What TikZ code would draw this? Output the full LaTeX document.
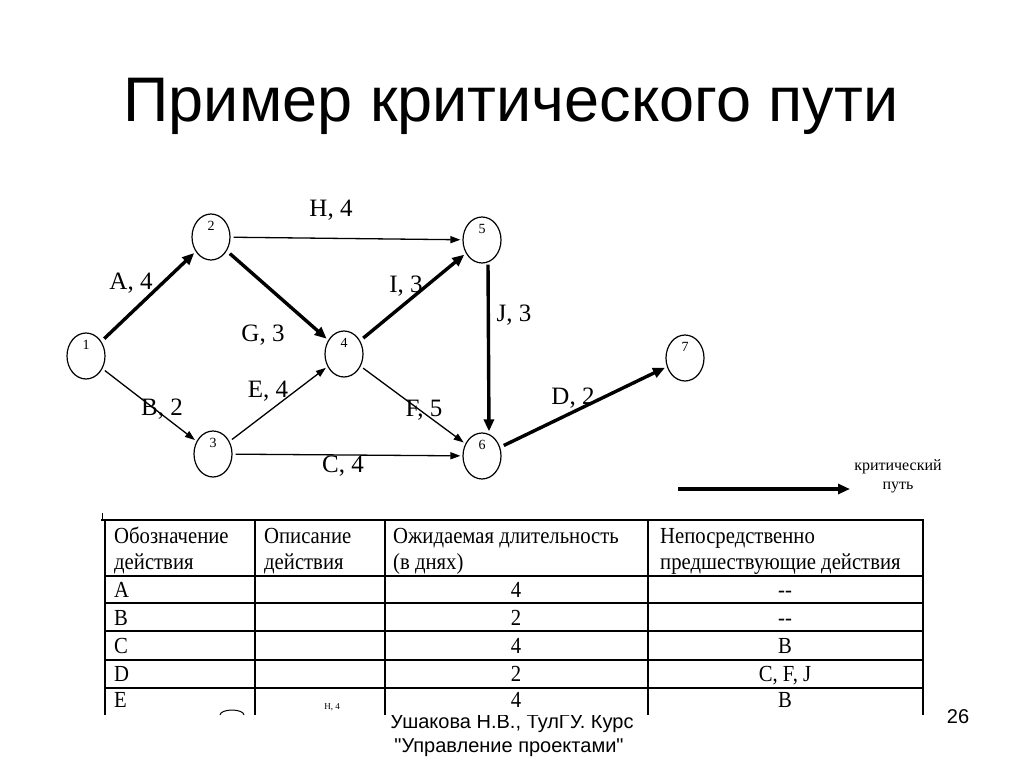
\documentclass[tikz,border=0pt]{standalone}
\usepackage{fontspec}
\setmainfont{Liberation Serif}
\newfontfamily\arialf{Liberation Sans}
\usetikzlibrary{shapes.geometric,arrows.meta}
\newcommand{\tcx}[1]{\scalebox{0.9}[1]{#1}}
\begin{document}
\begin{tikzpicture}[x=1pt,y=-1pt,
  ev/.style={draw,ellipse,line width=1.2pt,minimum width=38pt,minimum height=46pt,inner sep=0pt,
    font=\fontsize{14}{14}\selectfont,text height=9pt,text depth=22pt},
  thin/.style={line width=1.3pt,-{Triangle[length=10pt,width=7pt]},shorten <=3pt,shorten >=2pt},
  crit/.style={line width=3.4pt,-{Triangle[length=12pt,width=10pt]},shorten <=4pt,shorten >=2pt},
  elab/.style={font=\fontsize{25}{25}\selectfont,inner sep=0pt},
  tcell/.style={font=\fontsize{23}{23}\selectfont,inner sep=0pt},
  tline/.style={line width=1.4pt},
  ftxt/.style={font=\arialf\fontsize{20}{20}\selectfont,inner sep=0pt}
]
\useasboundingbox[fill=white] (0,0) rectangle (1024,767);

% title
\node[font=\arialf\fontsize{63}{63}\selectfont,anchor=base,inner sep=0pt] (title) at (511,122) {Пример критического пути};

% events
\node[ev] (n1) at (86,356) {1};
\node[ev] (n2) at (211,237) {2};
\node[ev] (n3) at (213,454) {3};
\node[ev] (n4) at (344,354) {4};
\node[ev] (n5) at (482,240) {5};
\node[ev] (n6) at (482,456) {6};
\node[ev] (n7) at (685,358) {7};

% activities
\draw[crit] (n1) -- (n2);
\draw[thin] (n1) -- (n3);
\draw[crit] (n2) -- (n4);
\draw[thin] (n2) -- (n5);
\draw[thin] (n3) -- (n4);
\draw[thin] (n3) -- (n6);
\draw[crit] (n4) -- (n5);
\draw[thin] (n4) -- (n6);
\draw[crit,shorten <=1pt,shorten >=1pt] ([xshift=6pt]n5.south) -- ([xshift=7pt]n6.north);
\draw[crit] (n6) -- (n7);

% activity labels
\node[elab] (lA) at (131,283) {A, 4};
\node[elab] (lB) at (162,409) {B, 2};
\node[elab] (lG) at (263,335) {G, 3};
\node[elab] (lH) at (331,210) {H, 4};
\node[elab] (lE) at (268,391) {E, 4};
\node[elab] (lC) at (343,466) {C, 4};
\node[elab] (lI) at (406,286) {I, 3};
\node[elab] (lF) at (424,410) {F, 5};
\node[elab] (lJ) at (514,315) {J, 3};
\node[elab] (lD) at (573,398) {D, 2};

% legend
\coordinate (legA) at (678,489);
\coordinate (legB) at (850,489);
\draw[line width=3.4pt,-{Triangle[length=12pt,width=10pt]}] (legA) -- (legB);
\node[font=\fontsize{16}{19}\selectfont,align=center,inner sep=0pt] (legT) at (898,476) {критический\\путь};

% footer (partly hidden under the table)
\node[ftxt,anchor=base] (foot1) at (512,728) {Ушакова Н.В., ТулГУ. Курс};
\node[ftxt,anchor=base] (foot2) at (509,752) {"Управление проектами"};
\node[ftxt] (pnum) at (958,717) {26};

% table background hides the top of the footer
\fill[white] (96,500) rectangle (935,715);

% table grid
\draw[line width=1pt] (102,513) -- (102,520);
\draw[tline] (101,520) -- (924,520);
\foreach \yy in {576,603,631,660,688} \draw[tline] (104,\yy) -- (924,\yy);
\foreach \xx in {105,255,385,648,923} \draw[tline] (\xx,520) -- (\xx,715);

% table header
\node[tcell,anchor=base west] (h1a) at (114,543) {\tcx{Обозначение}};
\node[tcell,anchor=base west] (h1b) at (114,569) {\tcx{действия}};
\node[tcell,anchor=base west] (h2a) at (264,543) {\tcx{Описание}};
\node[tcell,anchor=base west] (h2b) at (264,569) {\tcx{действия}};
\node[tcell,anchor=base west] (h3a) at (393,543) {\tcx{Ожидаемая длительность}};
\node[tcell,anchor=base west] (h3b) at (393,569) {\tcx{(в днях)}};
\node[tcell,anchor=base west] (h4a) at (660,543) {\tcx{Непосредственно}};
\node[tcell,anchor=base west] (h4b) at (660,569) {\tcx{предшествующие действия}};

% table rows
\node[tcell,anchor=base west] (rA) at (114,597) {\tcx{A}};
\node[tcell,anchor=base] (dA) at (516,597) {\tcx{4}};
\node[tcell,anchor=base] (pA) at (785,597) {\tcx{-{}-}};
\node[tcell,anchor=base west] (rB) at (114,625) {\tcx{B}};
\node[tcell,anchor=base] (dB) at (516,625) {\tcx{2}};
\node[tcell,anchor=base] (pB) at (785,625) {\tcx{-{}-}};
\node[tcell,anchor=base west] (rC) at (114,653) {\tcx{C}};
\node[tcell,anchor=base] (dC) at (516,653) {\tcx{4}};
\node[tcell,anchor=base] (pC) at (785,653) {\tcx{B}};
\node[tcell,anchor=base west] (rD) at (114,681) {\tcx{D}};
\node[tcell,anchor=base] (dD) at (516,681) {\tcx{2}};
\node[tcell,anchor=base] (pD) at (785,681) {\tcx{C, F, J}};
\node[tcell,anchor=base west] (rE) at (114,707) {\tcx{E}};
\node[tcell,anchor=base] (dE) at (516,707) {\tcx{4}};
\node[tcell,anchor=base] (pE) at (785,707) {\tcx{B}};

% small artefacts in the bottom row
\node[font=\fontsize{9}{9}\selectfont,inner sep=0pt] (tinyH) at (332,707) {H, 4};
\draw[line width=1pt] (220,715) arc[start angle=180,end angle=0,x radius=12pt,y radius=5pt];
\end{tikzpicture}
\end{document}
